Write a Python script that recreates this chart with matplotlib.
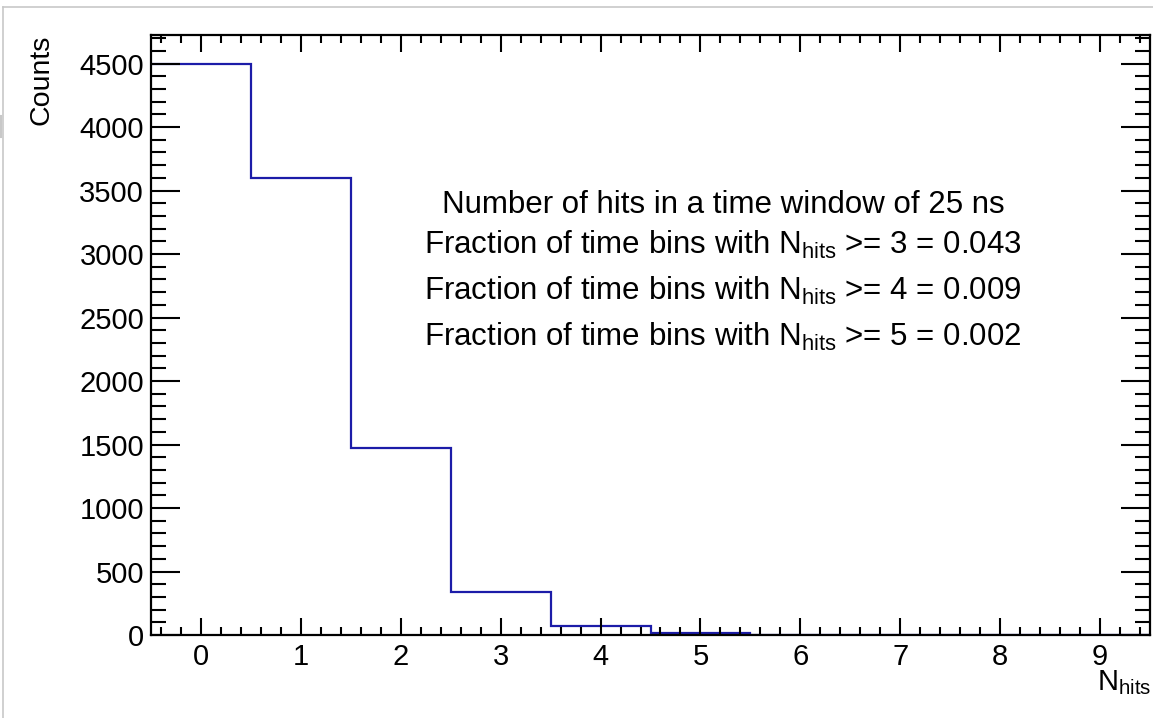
import numpy as np
import matplotlib
matplotlib.use("Agg")
import matplotlib.pyplot as plt
from matplotlib.lines import Line2D
from matplotlib.ticker import MultipleLocator

plt.rcParams['font.family'] = ['Liberation Sans', 'DejaVu Sans']
plt.rcParams['mathtext.fontset'] = 'custom'
plt.rcParams['mathtext.rm'] = 'Liberation Sans'
plt.rcParams['mathtext.it'] = 'Liberation Sans'

# Hit multiplicity per 25 ns window
n_hits = [0, 1, 2, 3, 4, 5, 6, 7, 8, 9]
counts = [4500, 3600, 1470, 340, 71, 18, 2, 1, 0, 0]

info_lines = [
    "Number of hits in a time window of 25 ns",
    r"Fraction of time bins with N$_{\mathrm{hits}}$ >= 3 = 0.043",
    r"Fraction of time bins with N$_{\mathrm{hits}}$ >= 4 = 0.009",
    r"Fraction of time bins with N$_{\mathrm{hits}}$ >= 5 = 0.002",
]

W, H = 1153, 718
fig = plt.figure(figsize=(W / 100, H / 100), dpi=100)
ax = fig.add_axes([151 / W, (H - 635) / H, (1150 - 151) / W, (635 - 35) / H])

edges = np.arange(len(n_hits) + 1) - 0.5
ax.stairs(counts, edges, baseline=None, color="#1c1ca8", linewidth=1.6)

ax.set_xlim(-0.5, 9.5)
ax.set_ylim(0, 1.05 * max(counts))

ax.xaxis.set_major_locator(MultipleLocator(1))
ax.xaxis.set_minor_locator(MultipleLocator(0.2))
ax.yaxis.set_major_locator(MultipleLocator(500))
ax.yaxis.set_minor_locator(MultipleLocator(100))

for s in ax.spines.values():
    s.set_linewidth(1.6)

ax.tick_params(axis='x', which='major', direction='in', length=12, width=1.5,
               top=True, bottom=True, labelsize=21, pad=6)
ax.tick_params(axis='x', which='minor', direction='in', length=6, width=1.5,
               top=True, bottom=True)
ax.tick_params(axis='y', which='major', direction='in', length=21, width=1.5,
               left=True, right=True, labelsize=21, pad=5)
ax.tick_params(axis='y', which='minor', direction='in', length=10.5, width=1.5,
               left=True, right=True)

# axis titles
fig.text(42 / W, 1 - 35 / H, "Counts", rotation=90, ha='center', va='top', fontsize=20.5)
fig.text(1151 / W, 1 - 690 / H, r"N$_{\mathrm{hits}}$", ha='right', va='baseline', fontsize=21)

# summary text
baselines = [213, 254, 300, 346]
for line, yb in zip(info_lines, baselines):
    fig.text(723 / W, 1 - yb / H, line, ha='center', va='baseline', fontsize=22.5)

# thin page border
gray = "#c8c8c8"
fig.add_artist(Line2D([3 / W, 1], [1 - 7 / H, 1 - 7 / H], color=gray, lw=1.2,
                      transform=fig.transFigure))
fig.add_artist(Line2D([3 / W, 3 / W], [1 - 7 / H, 0], color=gray, lw=1.2,
                      transform=fig.transFigure))
fig.add_artist(Line2D([0.5 / W, 0.5 / W], [1 - 116 / H, 1 - 137 / H], color=gray, lw=1.5,
                      transform=fig.transFigure))

fig.savefig("out.png", dpi=100)
